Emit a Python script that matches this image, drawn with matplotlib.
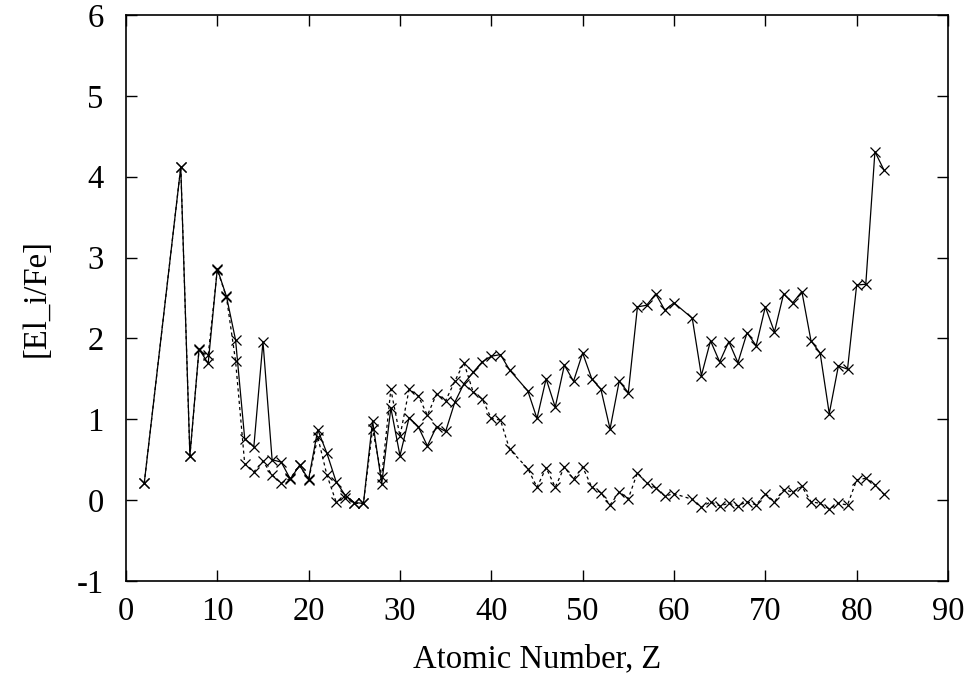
import matplotlib
matplotlib.use("Agg")
import matplotlib.pyplot as plt

# atomic numbers (Li, Be, B, Tc, Pm missing)
z = [2, 6, 7, 8, 9, 10, 11, 12, 13, 14, 15, 16, 17, 18, 19, 20,
     21, 22, 23, 24, 25, 26, 27, 28, 29, 30, 31, 32, 33, 34, 35, 36,
     37, 38, 39, 40, 41, 42, 44, 45, 46, 47, 48, 49, 50, 51, 52, 53,
     54, 55, 56, 57, 58, 59, 60, 62, 63, 64, 65, 66, 67, 68, 69, 70,
     71, 72, 73, 74, 75, 76, 77, 78, 79, 80, 81, 82, 83]

# solid line
el_fe_1 = [0.21, 4.12, 0.55, 1.87, 1.69, 2.86, 2.52, 1.98, 0.76, 0.66, 1.96, 0.50, 0.47, 0.26, 0.43, 0.26,
           0.87, 0.58, 0.23, 0.06, -0.03, -0.04, 0.98, 0.20, 1.14, 0.55, 1.02, 0.91, 0.67, 0.91, 0.85, 1.21,
           1.44, 1.58, 1.71, 1.78, 1.80, 1.61, 1.35, 1.01, 1.50, 1.15, 1.67, 1.47, 1.82, 1.50, 1.37, 0.88,
           1.47, 1.33, 2.39, 2.41, 2.55, 2.35, 2.44, 2.25, 1.54, 1.97, 1.71, 1.96, 1.70, 2.07, 1.91, 2.39,
           2.08, 2.55, 2.44, 2.58, 1.97, 1.82, 1.07, 1.66, 1.62, 2.66, 2.67, 4.31, 4.08]

# dashed line
el_fe_2 = [0.21, 4.12, 0.55, 1.86, 1.79, 2.85, 2.51, 1.72, 0.45, 0.35, 0.48, 0.31, 0.21, 0.27, 0.43, 0.25,
           0.78, 0.31, -0.02, 0.03, -0.04, -0.04, 0.88, 0.29, 1.37, 0.79, 1.37, 1.29, 1.05, 1.31, 1.23, 1.47,
           1.70, 1.34, 1.25, 1.01, 0.99, 0.63, 0.39, 0.16, 0.40, 0.16, 0.41, 0.26, 0.41, 0.16, 0.09, -0.06,
           0.10, 0.02, 0.34, 0.21, 0.15, 0.05, 0.08, 0.01, -0.09, -0.02, -0.07, -0.04, -0.07, -0.02, -0.06, 0.08,
           -0.02, 0.13, 0.10, 0.17, -0.02, -0.04, -0.11, -0.04, -0.06, 0.25, 0.27, 0.19, 0.07]

plt.rcParams["font.family"] = ["Liberation Serif", "DejaVu Serif"]
plt.rcParams["axes.unicode_minus"] = False

fig = plt.figure(figsize=(9.72, 6.87), dpi=100)
ax = fig.add_axes([0.1296, 0.1543, 0.8457, 0.8239])

ax.plot(z, el_fe_2, color="black", lw=0.9, ls=(0, (2.5, 2.5)),
        marker="x", ms=7, mew=0.9)
ax.plot(z, el_fe_1, color="black", lw=0.9, ls="-",
        marker="x", ms=7, mew=0.9)

ax.set_xlim(0, 90)
ax.set_ylim(-1, 6)
ax.set_xticks(range(0, 91, 10))
ax.set_yticks(range(-1, 7))

ax.tick_params(direction="in", top=True, right=True, length=8, width=1,
               labelsize=23.5)
ax.tick_params(axis="x", pad=11)
ax.tick_params(axis="y", pad=16)
for s in ax.spines.values():
    s.set_linewidth(1.2)

ax.set_xlabel("Atomic Number, Z", fontsize=23.5, labelpad=12)
ax.set_ylabel("[El_i/Fe]", fontsize=23.5, labelpad=18)

fig.savefig("out.png", dpi=100)
